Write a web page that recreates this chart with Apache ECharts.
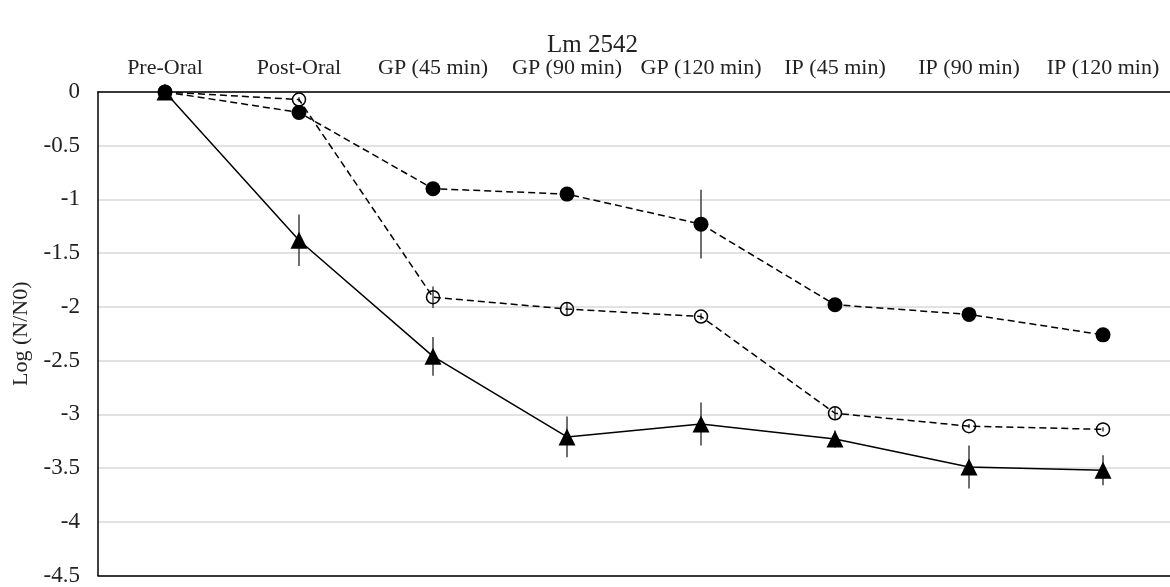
<!DOCTYPE html>
<html>
<head>
<meta charset="utf-8">
<script src="https://cdn.jsdelivr.net/npm/echarts@6/dist/echarts.min.js"></script>
<style>html,body{margin:0;padding:0;background:#fff;}#c{width:1170px;height:587px;}</style>
</head>
<body>
<div id="c"></div>
<script>
var categories = ['Pre-Oral', 'Post-Oral', 'GP (45 min)', 'GP (90 min)', 'GP (120 min)', 'IP (45 min)', 'IP (90 min)', 'IP (120 min)'];
var filledCircle = [0, -0.19, -0.90, -0.95, -1.23, -1.98, -2.07, -2.26];
var filledCircleErr = [0, 0.02, 0.03, 0.03, 0.32, 0.03, 0.03, 0.03];
var openCircle = [0, -0.07, -1.91, -2.02, -2.09, -2.99, -3.11, -3.14];
var openCircleErr = [0, 0.02, 0.10, 0.06, 0.03, 0.06, 0.02, 0.02];
var triangle = [0, -1.38, -2.46, -3.21, -3.09, -3.23, -3.49, -3.52];
var triangleErr = [0, 0.24, 0.18, 0.19, 0.20, 0.08, 0.20, 0.14];

var FONT = '"Liberation Serif", "DejaVu Serif", serif';

function errData(vals, errs) {
  return vals.map(function (v, i) { return [i, v - errs[i], v + errs[i]]; });
}
function errSeries(vals, errs) {
  return {
    type: 'custom',
    z: 1,
    silent: true,
    data: errData(vals, errs),
    renderItem: function (params, api) {
      var lo = api.coord([api.value(0), api.value(1)]);
      var hi = api.coord([api.value(0), api.value(2)]);
      return {
        type: 'line',
        shape: { x1: lo[0], y1: lo[1], x2: hi[0], y2: hi[1] },
        style: { stroke: '#404040', lineWidth: 1.5 }
      };
    }
  };
}

var chart = echarts.init(document.getElementById('c'));
chart.setOption({
  animation: false,
  backgroundColor: '#fff',
  title: {
    text: 'Lm 2542',
    left: 547,
    top: 33,
    padding: 0,
    textStyle: { fontFamily: FONT, fontSize: 25, fontWeight: 'normal', color: '#222' }
  },
  grid: { left: 98, right: 0, top: 92, bottom: 7 },
  xAxis: [{
    type: 'category',
    position: 'top',
    data: categories,
    boundaryGap: true,
    axisLine: { show: true, lineStyle: { color: '#000', width: 1.5 } },
    axisTick: { show: false },
    axisLabel: { fontFamily: FONT, fontSize: 22, color: '#222', margin: 13, interval: 0 },
    splitLine: { show: false }
  }, {
    type: 'category',
    position: 'bottom',
    data: categories,
    axisLine: { show: true, onZero: false, lineStyle: { color: '#000', width: 1.5 } },
    axisTick: { show: false },
    axisLabel: { show: false }
  }],
  yAxis: {
    type: 'value',
    min: -4.5,
    max: 0,
    interval: 0.5,
    name: 'Log (N/N0)',
    nameLocation: 'middle',
    nameGap: 65,
    nameTextStyle: { fontFamily: FONT, fontSize: 22, color: '#222' },
    axisLine: { show: true, lineStyle: { color: '#000', width: 1.5 } },
    axisTick: { show: false },
    axisLabel: { fontFamily: FONT, fontSize: 23, color: '#222', margin: 18 },
    splitLine: { show: true, lineStyle: { color: '#d9d9d9', width: 1.5 } }
  },
  series: [
    errSeries(filledCircle, filledCircleErr),
    errSeries(openCircle, openCircleErr),
    errSeries(triangle, triangleErr),
    {
      type: 'line', name: 'triangle', data: triangle, z: 2,
      symbol: 'triangle', symbolSize: 17,
      itemStyle: { color: '#000' },
      lineStyle: { color: '#000', width: 1.5, type: 'solid' }
    },
    {
      type: 'line', name: 'open', data: openCircle, z: 2,
      symbol: 'circle', symbolSize: 13,
      itemStyle: { color: 'rgba(255,255,255,0)', borderColor: '#000', borderWidth: 1.5 },
      lineStyle: { color: '#000', width: 1.5, type: [7, 4] }
    },
    {
      type: 'line', name: 'filled', data: filledCircle, z: 2,
      symbol: 'circle', symbolSize: 15,
      itemStyle: { color: '#000' },
      lineStyle: { color: '#000', width: 1.5, type: [7, 4] }
    }
  ]
});
</script>
</body>
</html>
